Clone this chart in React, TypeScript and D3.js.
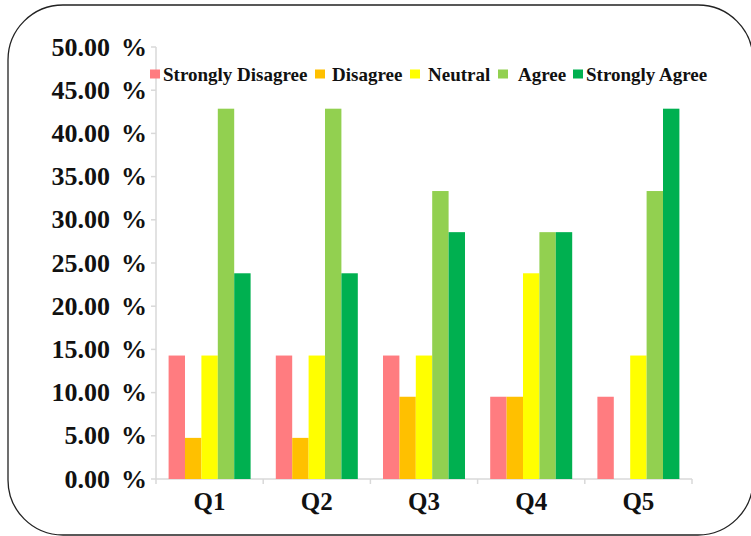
import React from "react";
import * as d3 from "d3";

const categories = ["Q1", "Q2", "Q3", "Q4", "Q5"];
const seriesNames = ["Strongly Disagree", "Disagree", "Neutral", "Agree", "Strongly Agree"];
const stronglyDisagree = [14.29, 14.29, 14.29, 9.52, 9.52];
const disagree = [4.76, 4.76, 9.52, 9.52, 0];
const neutral = [14.29, 14.29, 14.29, 23.81, 14.29];
const agree = [42.86, 42.86, 33.33, 28.57, 33.33];
const stronglyAgree = [23.81, 23.81, 28.57, 28.57, 42.86];
const yTicks = [0, 5, 10, 15, 20, 25, 30, 35, 40, 45, 50];

const seriesValues = [stronglyDisagree, disagree, neutral, agree, stronglyAgree];
const colors = ["#FF7C80", "#FFC000", "#FFFF00", "#92D050", "#00B050"];
// legend layout: marker x, text x
const legendLayout = [
  [150, 163],
  [315, 332],
  [410, 428],
  [498, 518],
  [573, 586],
];

export default function App() {
  const W = 751;
  const H = 536;
  const x0 = 156;
  const x1 = 692;
  const yTop = 47;
  const yBot = 479;
  const x = d3.scaleBand<string>().domain(categories).range([x0, x1]).paddingInner(0.235).paddingOuter(0.1175);
  const xs = d3.scaleBand<number>().domain(d3.range(seriesNames.length)).range([0, x.bandwidth()]);
  const y = d3.scaleLinear().domain([0, 50]).range([yBot, yTop]);
  const step = (x1 - x0) / categories.length;
  const font = "Liberation Serif";

  return (
    <svg width={W} height={H} style={{ position: "absolute", left: 0, top: 0 }}>
      <rect x={0} y={0} width={W} height={H} fill="#fff" />
      <rect x={8} y={5} width={745} height={530} rx={55} ry={55} fill="#fff" stroke="#222" strokeWidth={1.3} />
      <line x1={x0} x2={x0} y1={yTop} y2={yBot} stroke="#d9d9d9" strokeWidth={1.5} />
      <line x1={x0} x2={x1} y1={yBot} y2={yBot} stroke="#d9d9d9" strokeWidth={1.5} />
      {yTicks.map((t) => (
        <g key={t}>
          <line x1={x0 - 5} x2={x0} y1={y(t)} y2={y(t)} stroke="#d9d9d9" strokeWidth={1.5} />
          <text x={110} y={y(t) + 8.5} textAnchor="end" fontFamily={font} fontWeight="bold" fontSize={26} fill="#111">
            {t.toFixed(2)}
          </text>
          <text x={147} y={y(t) + 8.5} textAnchor="end" fontFamily={font} fontWeight="bold" fontSize={26} fill="#111">
            %
          </text>
        </g>
      ))}
      {d3.range(categories.length + 1).map((i) => (
        <line key={i} x1={x0 + i * step} x2={x0 + i * step} y1={yBot} y2={yBot + 5} stroke="#d9d9d9" strokeWidth={1.5} />
      ))}
      {categories.map((c, ci) => (
        <g key={c}>
          {seriesValues.map((vals, si) =>
            vals[ci] > 0 ? (
              <rect
                key={si}
                x={(x(c) as number) + (xs(si) as number)}
                y={y(vals[ci])}
                width={xs.bandwidth()}
                height={yBot - y(vals[ci])}
                fill={colors[si]}
              />
            ) : null
          )}
          <text
            x={(x(c) as number) + x.bandwidth() / 2}
            y={510}
            textAnchor="middle"
            fontFamily={font}
            fontWeight="bold"
            fontSize={25}
            fill="#111"
          >
            {c}
          </text>
        </g>
      ))}
      {seriesNames.map((n, i) => (
        <g key={n}>
          <rect x={legendLayout[i][0]} y={69.5} width={10} height={9} fill={colors[i]} />
          <text x={legendLayout[i][1]} y={80.5} fontFamily={font} fontWeight="bold" fontSize={19} fill="#111">
            {n}
          </text>
        </g>
      ))}
    </svg>
  );
}
